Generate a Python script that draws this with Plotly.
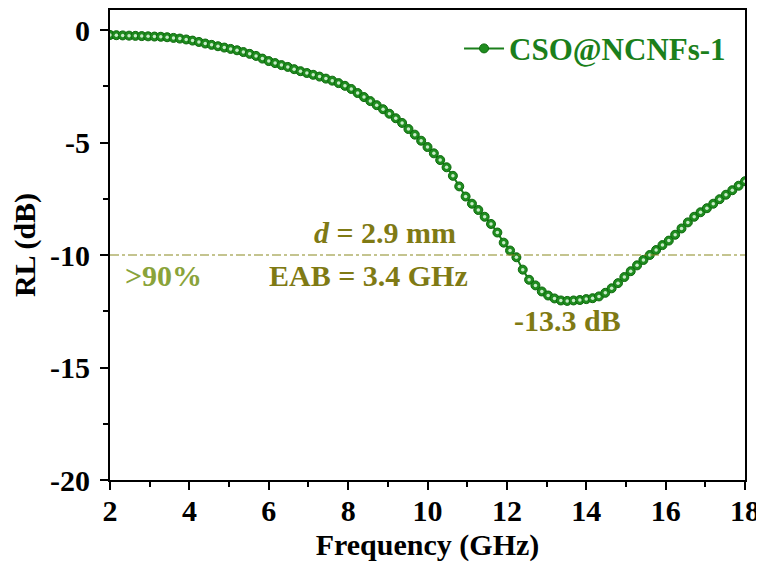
import plotly.graph_objects as go

freq = [2.00, 2.16, 2.32, 2.48, 2.64, 2.80, 2.96, 3.12, 3.28, 3.44,
        3.60, 3.76, 3.92, 4.08, 4.24, 4.40, 4.56, 4.72, 4.88, 5.04,
        5.20, 5.36, 5.52, 5.68, 5.84, 6.00, 6.16, 6.32, 6.48, 6.64,
        6.80, 6.96, 7.12, 7.28, 7.44, 7.60, 7.76, 7.92, 8.08, 8.24,
        8.40, 8.56, 8.72, 8.88, 9.04, 9.20, 9.36, 9.52, 9.68, 9.84,
        10.00, 10.16, 10.32, 10.48, 10.64, 10.80, 10.96, 11.12, 11.28, 11.44,
        11.60, 11.76, 11.92, 12.08, 12.24, 12.40, 12.56, 12.72, 12.88, 13.04,
        13.20, 13.36, 13.52, 13.68, 13.84, 14.00, 14.16, 14.32, 14.48, 14.64,
        14.80, 14.96, 15.12, 15.28, 15.44, 15.60, 15.76, 15.92, 16.08, 16.24,
        16.40, 16.56, 16.72, 16.88, 17.04, 17.20, 17.36, 17.52, 17.68, 17.84,
        18.00]
rl = [-0.22, -0.23, -0.24, -0.25, -0.26, -0.27, -0.28, -0.29, -0.30, -0.32,
      -0.35, -0.38, -0.42, -0.47, -0.53, -0.60, -0.66, -0.72, -0.78, -0.84,
      -0.90, -0.98, -1.06, -1.15, -1.27, -1.38, -1.47, -1.56, -1.64, -1.74,
      -1.83, -1.91, -1.99, -2.07, -2.16, -2.25, -2.36, -2.48, -2.62, -2.80,
      -2.98, -3.16, -3.34, -3.52, -3.72, -3.92, -4.13, -4.40, -4.65, -4.92,
      -5.20, -5.48, -5.78, -6.10, -6.48, -6.95, -7.40, -7.72, -8.00, -8.30,
      -8.62, -9.00, -9.45, -9.80, -10.10, -10.65, -11.10, -11.35, -11.62, -11.80,
      -11.93, -12.02, -12.04, -12.02, -12.00, -11.96, -11.92, -11.84, -11.68, -11.48,
      -11.25, -10.98, -10.72, -10.46, -10.22, -10.00, -9.78, -9.56, -9.36, -9.10,
      -8.82, -8.55, -8.30, -8.10, -7.92, -7.72, -7.52, -7.32, -7.12, -6.92,
      -6.72]

series_name = "CSO@NCNFs-1"
x_ticks = [2, 4, 6, 8, 10, 12, 14, 16, 18]
x_ticklabels = ["2", "4", "6", "8", "10", "12", "14", "16", "18"]
y_ticks = [0, -5, -10, -15, -20]
y_ticklabels = ["0", "-5", "-10", "-15", "-20"]
threshold = -10

FONT = "Liberation Serif"
GREEN = "#1b7f1b"
OLIVE = "#7f7a14"

fig = go.Figure()
fig.add_trace(go.Scatter(
    x=freq, y=rl, mode="lines+markers", name=series_name,
    line=dict(color=GREEN, width=2),
    marker=dict(symbol="circle", size=9, color="#1f8c1f",
                line=dict(color="#0d6a0d", width=1)),
))
fig.add_trace(go.Scatter(
    x=freq, y=rl, mode="markers", showlegend=False, hoverinfo="skip",
    marker=dict(symbol="circle", size=3.5, color="#c8ecc8"),
))

fig.add_shape(type="line", xref="paper", x0=0, x1=1, yref="y",
              y0=threshold, y1=threshold,
              line=dict(color="#8a8a20", width=1.2, dash="dashdot"))

ann_font = dict(family=FONT, size=30, color=OLIVE, weight="bold")
fig.add_annotation(x=8.94, y=-9.02, xref="x", yref="y",
                   text="<i>d</i> = 2.9 mm", showarrow=False, font=ann_font)
fig.add_annotation(x=8.51, y=-10.89, xref="x", yref="y",
                   text="EAB = 3.4 GHz", showarrow=False, font=ann_font)
fig.add_annotation(x=3.35, y=-10.89, xref="x", yref="y",
                   text=">90%", showarrow=False,
                   font=dict(family=FONT, size=30, color="#8aa33a", weight="bold"))
fig.add_annotation(x=13.54, y=-12.89, xref="x", yref="y",
                   text="-13.3 dB", showarrow=False, font=ann_font)

fig.update_layout(
    width=756, height=562,
    margin=dict(l=102, r=19, t=2, b=90),
    plot_bgcolor="white", paper_bgcolor="white",
    font=dict(family=FONT, size=22, color="black"),
    showlegend=True,
    legend=dict(x=0.978, y=0.975, xanchor="right", yanchor="top",
                bgcolor="rgba(0,0,0,0)", itemwidth=40,
                font=dict(family=FONT, size=31, color=GREEN, weight="bold")),
)
fig.update_xaxes(
    range=[2, 18], tickvals=x_ticks, ticktext=x_ticklabels, automargin=False,
    showline=True, linecolor="black", linewidth=2, mirror=True,
    ticks="outside", ticklen=8, tickwidth=2, tickcolor="black",
    minor=dict(dtick=1, tick0=2, ticks="outside", ticklen=5, tickwidth=2, tickcolor="black"),
    showgrid=False, zeroline=False, ticklabelstandoff=-5,
    tickfont=dict(family=FONT, size=30, weight="bold"),
    title=dict(text="<b>Frequency (GHz)</b>", standoff=8,
               font=dict(family=FONT, size=30)),
)
fig.update_yaxes(
    range=[-20, 0.89], tickvals=y_ticks, ticktext=y_ticklabels, automargin=False,
    showline=True, linecolor="black", linewidth=2, mirror=True,
    ticks="outside", ticklen=8, tickwidth=2, tickcolor="black",
    minor=dict(dtick=2.5, tick0=0, ticks="outside", ticklen=5, tickwidth=2, tickcolor="black"),
    showgrid=False, zeroline=False, ticklabelstandoff=4,
    tickfont=dict(family=FONT, size=30, weight="bold"),
    title=dict(text="<b>RL (dB)</b>", standoff=6,
               font=dict(family=FONT, size=30)),
)

fig.write_html("out.html")
